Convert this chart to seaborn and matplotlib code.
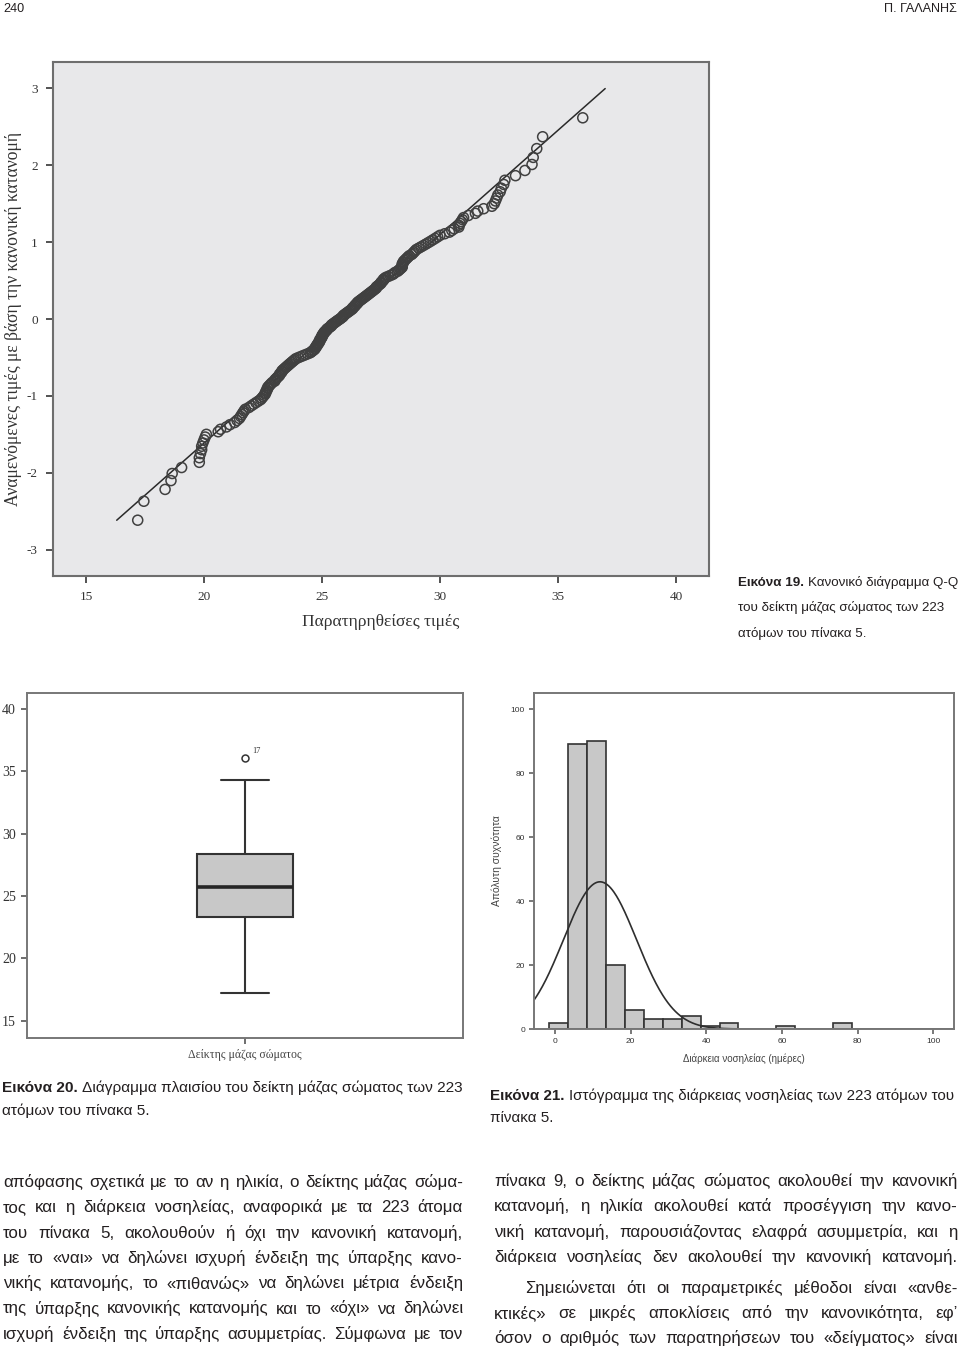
import statistics
import numpy as np
import pandas as pd
import seaborn as sns
import matplotlib.pyplot as plt
from matplotlib import font_manager

# ---------------- data ----------------

# Εικόνα 19 / 20: observed body mass index of the 223 persons (sorted)
bmi = [
    17.19, 17.45, 18.35, 18.6, 18.65, 19.05, 19.8, 19.8, 19.85, 19.9,
    19.9, 19.95, 20.0, 20.05, 20.1, 20.6, 20.7, 20.95, 21.1, 21.3,
    21.4, 21.5, 21.55, 21.6, 21.65, 21.7, 21.75, 21.9, 22.0, 22.1,
    22.2, 22.3, 22.4, 22.45, 22.5, 22.55, 22.6, 22.6, 22.65, 22.65,
    22.7, 22.7, 22.75, 22.8, 22.85, 22.9, 23.0, 23.0, 23.05, 23.1,
    23.15, 23.2, 23.2, 23.25, 23.3, 23.3, 23.35, 23.4, 23.45, 23.5,
    23.55, 23.6, 23.65, 23.7, 23.75, 23.8, 23.85, 23.9, 24.0, 24.1,
    24.2, 24.3, 24.4, 24.5, 24.55, 24.6, 24.65, 24.7, 24.7, 24.75,
    24.75, 24.8, 24.8, 24.85, 24.85, 24.9, 24.9, 24.9, 24.95, 24.95,
    25.0, 25.0, 25.0, 25.05, 25.05, 25.1, 25.1, 25.15, 25.2, 25.2,
    25.25, 25.3, 25.35, 25.4, 25.4, 25.45, 25.5, 25.55, 25.6, 25.65,
    25.7, 25.76, 25.8, 25.85, 25.9, 25.9, 25.95, 26.0, 26.05, 26.1,
    26.15, 26.2, 26.25, 26.3, 26.3, 26.35, 26.4, 26.4, 26.45, 26.5,
    26.5, 26.55, 26.6, 26.65, 26.7, 26.75, 26.8, 26.85, 26.9, 26.95,
    27.0, 27.05, 27.1, 27.15, 27.2, 27.25, 27.3, 27.3, 27.35, 27.4,
    27.45, 27.5, 27.5, 27.55, 27.6, 27.6, 27.65, 27.7, 27.8, 27.9,
    28.0, 28.05, 28.1, 28.2, 28.25, 28.3, 28.35, 28.4, 28.4, 28.4,
    28.4, 28.45, 28.45, 28.5, 28.55, 28.6, 28.65, 28.7, 28.8, 28.85,
    28.9, 28.95, 29.0, 29.1, 29.2, 29.3, 29.4, 29.5, 29.6, 29.7,
    29.8, 29.9, 30.0, 30.2, 30.4, 30.5, 30.6, 30.8, 30.8, 30.85,
    30.9, 30.95, 31.0, 31.2, 31.5, 31.6, 31.85, 32.2, 32.3, 32.35,
    32.4, 32.45, 32.55, 32.6, 32.7, 32.75, 33.2, 33.6, 33.9, 33.95,
    34.1, 34.35, 36.05,
]
# reference line of the Q-Q plot (mean / sd) and its x extent
ref_mean = 25.95
ref_sd = 3.69
ref_x = [16.3, 37.0]
outlier_case = '17'
box_label = 'Δείκτης μάζας σώματος'

# Εικόνα 21: length of stay histogram (bin width 5)
bin_lefts = [-1.5, 3.5, 8.5, 13.5, 18.5, 23.5, 28.5, 33.5, 38.5, 43.5, 58.5, 73.5]
bin_counts = [2, 89, 90, 20, 6, 3, 3, 4, 1, 2, 1, 2]
bin_width = 5
curve_mean = 11.9
curve_sd = 9.67

# page texts
header_left = '240'
header_right = 'Π. ΓΑΛΑΝΗΣ'
qq_xlabel = 'Παρατηρηθείσες τιμές'
qq_ylabel = 'Αναμενόμενες τιμές με βάση την κανονική κατανομή'
hist_xlabel = 'Διάρκεια νοσηλείας (ημέρες)'
hist_ylabel = 'Απόλυτη συχνότητα'
cap19 = ('Εικόνα 19.', ['Κανονικό διάγραμμα Q-Q', 'του δείκτη μάζας σώματος των 223', 'ατόμων του πίνακα 5.'])
cap20 = ('Εικόνα 20.', ['Διάγραμμα πλαισίου του δείκτη μάζας σώματος των 223', 'ατόμων του πίνακα 5.'])
cap21 = ('Εικόνα 21.', ['Ιστόγραμμα της διάρκειας νοσηλείας των 223 ατόμων του', 'πίνακα 5.'])
left_col = [
    'απόφασης σχετικά με το αν η ηλικία, ο δείκτης μάζας σώμα-',
    'τος και η διάρκεια νοσηλείας, αναφορικά με τα 223 άτομα',
    'του πίνακα 5, ακολουθούν ή όχι την κανονική κατανομή,',
    'με το «ναι» να δηλώνει ισχυρή ένδειξη της ύπαρξης κανο-',
    'νικής κατανομής, το «πιθανώς» να δηλώνει μέτρια ένδειξη',
    'της ύπαρξης κανονικής κατανομής και το «όχι» να δηλώνει',
    'ισχυρή ένδειξη της ύπαρξης ασυμμετρίας. Σύμφωνα με τον',
]
right_col = [
    'πίνακα 9, ο δείκτης μάζας σώματος ακολουθεί την κανονική',
    'κατανομή, η ηλικία ακολουθεί κατά προσέγγιση την κανο-',
    'νική κατανομή, παρουσιάζοντας ελαφρά ασυμμετρία, και η',
    'διάρκεια νοσηλείας δεν ακολουθεί την κανονική κατανομή.',
    'Σημειώνεται ότι οι παραμετρικές μέθοδοι είναι «ανθε-',
    'κτικές» σε μικρές αποκλίσεις από την κανονικότητα, εφ’',
    'όσον ο αριθμός των παρατηρήσεων του «δείγματος» είναι',
]

# ---------------- setup ----------------
sns.set_theme(style='ticks')
names = {f.name for f in font_manager.fontManager.ttflist}
body_font = 'Liberation Sans Narrow' if 'Liberation Sans Narrow' in names else 'Liberation Sans'
serif = 'Liberation Serif' if 'Liberation Serif' in names else 'DejaVu Serif'
plt.rcParams['font.family'] = [body_font, 'DejaVu Sans']

W, H = 960, 1352
fig = plt.figure(figsize=(W / 100, H / 100), dpi=100)
fig.patch.set_facecolor('white')
renderer = fig.canvas.get_renderer()
ink = '#231f20'


def fx(px):
    return px / W


def fy(py):
    return 1 - py / H


def width_px(s, size, **kw):
    t = fig.text(0, 0, s, fontsize=size, **kw)
    w = t.get_window_extent(renderer=renderer).width
    t.remove()
    return w


def frame(ax, color='#6e6e6e', lw=1.5):
    for sp in ax.spines.values():
        sp.set_visible(True)
        sp.set_color(color)
        sp.set_linewidth(lw)


# ---------------- Εικόνα 19: Q-Q plot ----------------
n = len(bmi)
nd = statistics.NormalDist()
expected = [nd.inv_cdf((i + 1) / (n + 1)) for i in range(n)]

ax1 = fig.add_axes([fx(53), fy(576), 656 / W, 514 / H])
ax1.set_facecolor('#e8e8ea')
sns.lineplot(x=ref_x, y=[(v - ref_mean) / ref_sd for v in ref_x], ax=ax1,
             color='#2a2a2a', linewidth=1.1)
sns.scatterplot(x=bmi, y=expected, ax=ax1, marker='o', s=52, facecolors='none',
                edgecolor='#404040', linewidth=1.1, zorder=3)
ax1.set_xlim(13.6, 41.4)
ax1.set_ylim(-3.34, 3.34)
ax1.set_xticks(range(15, 41, 5), labels=[str(v) for v in range(15, 41, 5)],
               fontfamily=serif, fontsize=9.5, color='#333333')
ax1.set_yticks(range(-3, 4), labels=[str(v) for v in range(-3, 4)],
               fontfamily=serif, fontsize=9.5, color='#333333')
ax1.tick_params(direction='out', length=5, width=1.3, color='#444444', pad=6)
frame(ax1)
s = 10 * 157 / width_px(qq_xlabel, 10, family=serif)
ax1.set_xlabel(qq_xlabel, fontfamily=serif, fontsize=s, color='#333333')
ax1.xaxis.set_label_coords(0.5, -46 / 514)
ax1.xaxis.label.set_va('center')
s = 10 * 375 / width_px(qq_ylabel, 10, family=serif)
ax1.set_ylabel(qq_ylabel, fontfamily=serif, fontsize=s, color='#333333')
ax1.yaxis.set_label_coords(-(53 - 14) / 656, 0.5)
ax1.yaxis.label.set_va('center')

# ---------------- Εικόνα 20: box plot ----------------
ax2 = fig.add_axes([fx(27), fy(1038), 436 / W, 345 / H])
box_df = pd.DataFrame({'var': [box_label] * n, 'value': bmi})
sns.boxplot(data=box_df, x='var', y='value', ax=ax2, width=0.22, color='#c8c8c8',
            saturation=1, linecolor='#333333', linewidth=1.5,
            flierprops=dict(marker='o', markerfacecolor='none', markeredgecolor='#333333',
                            markeredgewidth=1.1, markersize=5),
            medianprops=dict(color='#262626', linewidth=2.6))
ax2.set_xlim(-0.5, 0.5)
ax2.set_ylim(13.6, 41.3)
ax2.set_yticks(range(15, 41, 5), labels=[str(v) for v in range(15, 41, 5)],
               fontfamily=serif, fontsize=10, color='#333333')
for lbl in ax2.get_xticklabels():
    lbl.set_fontfamily(serif)
    lbl.set_fontsize(8.5)
    lbl.set_color('#444444')
ax2.tick_params(direction='out', length=4, width=1.2, color='#555555', pad=4)
ax2.set_xlabel('')
ax2.set_ylabel('')
frame(ax2, '#777777', 1.4)
ax2.annotate(outlier_case, xy=(0, max(bmi)), xytext=(5, 4), textcoords='offset points',
             fontsize=6, fontfamily=serif, color='#333333')

# ---------------- Εικόνα 21: histogram ----------------
ax3 = fig.add_axes([fx(534), fy(1029), 420 / W, 336 / H])
hist_df = pd.DataFrame({'days': [b + bin_width / 2 for b in bin_lefts], 'count': bin_counts})
edges = [float(e) for e in np.arange(bin_lefts[0], bin_lefts[-1] + bin_width + 0.1, bin_width)]
sns.histplot(data=hist_df, x='days', weights='count', bins=edges,
             ax=ax3, color='#c8c8c8', edgecolor='#333333', linewidth=1.2, alpha=1)
xs = np.linspace(-5.55, 105.5, 500)
amp = sum(bin_counts) * bin_width / (curve_sd * np.sqrt(2 * np.pi))
sns.lineplot(x=xs, y=amp * np.exp(-0.5 * ((xs - curve_mean) / curve_sd) ** 2), ax=ax3,
             color='#2e2e2e', linewidth=1.2)
ax3.set_xlim(-5.55, 105.5)
ax3.set_ylim(0, 105)
ax3.set_xticks(range(0, 101, 20), labels=[str(v) for v in range(0, 101, 20)],
               fontsize=6, color='#333333')
ax3.set_yticks(range(0, 101, 20), labels=[str(v) for v in range(0, 101, 20)],
               fontsize=6, color='#333333')
ax3.tick_params(direction='out', length=3.5, width=1.1, color='#555555', pad=3)
frame(ax3, '#777777', 1.4)
ax3.set_xlabel(hist_xlabel, fontsize=7, color='#444444')
ax3.xaxis.set_label_coords(0.5, -(1059 - 1029) / 336)
ax3.xaxis.label.set_va('center')
ax3.set_ylabel(hist_ylabel, fontsize=7.5, color='#444444')
ax3.yaxis.set_label_coords(-(534 - 497) / 420, 0.5)
ax3.yaxis.label.set_va('center')

# ---------------- header ----------------
hs = 10 * 73 / width_px(header_right, 10)
fig.text(fx(3), fy(9), header_left, fontsize=hs, color=ink, va='center', ha='left')
fig.text(fx(957), fy(9), header_right, fontsize=hs, color=ink, va='center', ha='right')


# ---------------- captions ----------------
def caption(x0, y0, cap, target, lead):
    bold, lines = cap
    wb = width_px(bold, 10, fontweight='bold')
    wr = width_px(lines[0], 10)
    size = 10 * target / (wb + wr + 10 * 100 / 72 * 0.28)
    t = fig.text(fx(x0), fy(y0 + 5), bold, fontsize=size, fontweight='bold', color=ink,
                 va='baseline')
    bw = t.get_window_extent(renderer=renderer).width
    fig.text(fx(x0 + bw + size * 100 / 72 * 0.28), fy(y0 + 5), lines[0], fontsize=size,
             color=ink, va='baseline')
    for k, line in enumerate(lines[1:], 1):
        fig.text(fx(x0), fy(y0 + 5 + k * lead), line, fontsize=size, color=ink, va='baseline')


caption(738, 581, cap19, 220, 25.5)
caption(2, 1087, cap20, 461, 22.5)
caption(490, 1095, cap21, 465, 22.5)


# ---------------- body text (justified) ----------------
def justify(line, x0, x1, y, size):
    words = line.split(' ')
    objs = [fig.text(0, fy(y + 5), w, fontsize=size, color=ink, va='baseline', ha='left')
            for w in words]
    widths = [o.get_window_extent(renderer=renderer).width for o in objs]
    gap = (x1 - x0 - sum(widths)) / max(len(words) - 1, 1)
    x = x0
    for o, w in zip(objs, widths):
        o.set_x(fx(x))
        x += w + gap


body_size = 14
ratio = min(min(463 / width_px(l, body_size) for l in left_col),
            min(465 / width_px(l, body_size) for l in right_col))
if ratio < 1.03:
    body_size = body_size * ratio / 1.03

left_y = [1182 + 25.3 * k for k in range(7)]
right_y = [1181, 1206, 1232, 1257, 1288, 1313, 1338]
for line, y in zip(left_col, left_y):
    justify(line, 3, 463, y, body_size)
for k, (line, y) in enumerate(zip(right_col, right_y)):
    justify(line, 525 if k == 4 else 494, 958, y, body_size)

fig.savefig('out.png', dpi=100)
